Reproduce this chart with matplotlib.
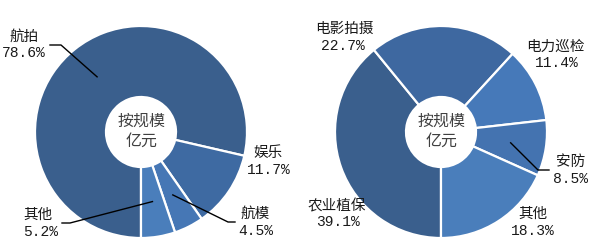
import numpy as np
import matplotlib
matplotlib.use('Agg')
import matplotlib.pyplot as plt

# ---------------- data ----------------
left_labels = ['航拍', '娱乐', '航模', '其他']
left_values = [78.6, 11.7, 4.5, 5.2]
right_labels = ['农业植保', '电影拍摄', '电力巡检', '安防', '其他']
right_values = [39.1, 22.7, 11.4, 8.5, 18.3]
center_text = '按规模\n亿元'

# ---------------- style ----------------
left_colors = ['#3A5F8D', '#3E6AA2', '#4677B5', '#4A7EBB']
right_colors = ['#3A5F8D', '#3E68A0', '#4679B9', '#4473B0', '#4A7EBB']

W, H = 594, 249
def Y(py):
    return H - py

# label placement (pixel coords): name center, pct center, leader elbow points
left_pos = [
    dict(name=(24, 37), pct=(24, 53), leader=[(61, 45), (50, 45)]),
    dict(name=(268, 153), pct=(269, 170), leader=None),
    dict(name=(255, 214), pct=(256, 231), leader=[(228, 222), (235, 222)]),
    dict(name=(38, 215), pct=(41, 232), leader=[(70, 223), (62, 223)]),
]
right_pos = [
    dict(name=(337, 206), pct=(338, 222), leader=None),
    dict(name=(344, 29), pct=(343, 46), leader=None),
    dict(name=(555, 47), pct=(557, 63), leader=None),
    dict(name=(571, 162), pct=(571, 179), leader=[(538, 170), (549, 170)]),
    dict(name=(533, 214), pct=(533, 231), leader=None),
]

fig = plt.figure(figsize=(W / 100, H / 100), dpi=100)
ax = fig.add_axes([0, 0, 1, 1])

R = 106
RING = 71
cjk = ['Noto Sans CJK SC', 'DejaVu Sans']
txt_color = '#1a1a1a'

def donut(values, labels, colors, cx, cy, positions):
    wedges, _ = ax.pie(values, colors=colors, startangle=-90, counterclock=False,
                       radius=R, center=(cx, Y(cy)), frame=True,
                       wedgeprops=dict(width=RING, edgecolor='white', linewidth=1.6))
    for w, lab, val, pos in zip(wedges, labels, values, positions):
        nx, ny = pos['name']
        px, py = pos['pct']
        ax.text(nx, Y(ny), lab, ha='center', va='center', fontsize=10.5,
                family=cjk, color=txt_color)
        ax.text(px, Y(py), f'{val:.1f}%', ha='center', va='center', fontsize=10.5,
                family=['Liberation Mono', 'DejaVu Sans Mono'], color=txt_color)
        if pos['leader']:
            mid = np.deg2rad((w.theta1 + w.theta2) / 2)
            rm = R - RING / 2
            ax_ = cx + rm * np.cos(mid)
            ay_ = Y(cy) + rm * np.sin(mid)
            xs = [ax_] + [p[0] for p in pos['leader']]
            ys = [ay_] + [Y(p[1]) for p in pos['leader']]
            ax.plot(xs, ys, color='black', lw=1.0)
    ax.text(cx + 1, Y(cy) + 1, center_text, ha='center', va='center', fontsize=11.5,
            family=cjk, color='#404040', linespacing=1.25)

donut(left_values, left_labels, left_colors, 141, 132, left_pos)
donut(right_values, right_labels, right_colors, 441, 132, right_pos)

ax.set_xlim(0, W)
ax.set_ylim(0, H)
ax.set_aspect('equal')
ax.axis('off')
fig.savefig('out.png', dpi=100, facecolor='white')
